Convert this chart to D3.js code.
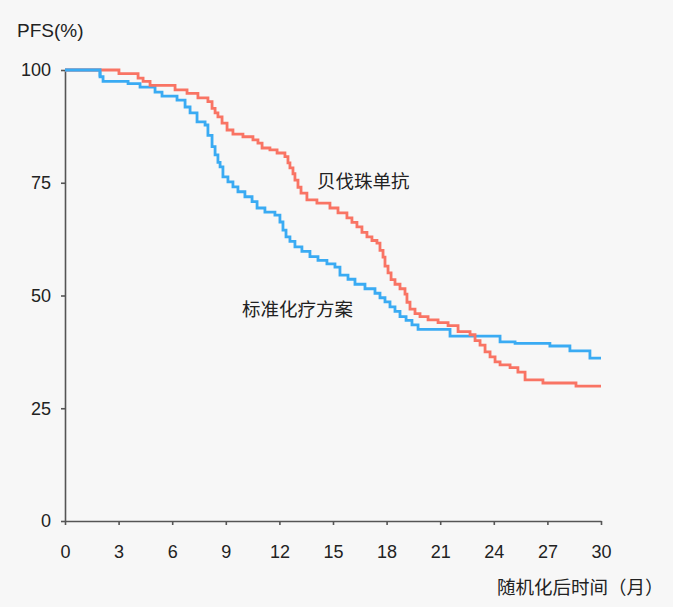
<!DOCTYPE html>
<html>
<head>
<meta charset="utf-8">
<script src="https://cdn.jsdelivr.net/npm/d3@7.9.0/dist/d3.min.js"></script>
<style>
  body { margin: 0; background: #f7f7f7; }
  svg { display: block; font-family: "Noto Sans CJK SC", "Noto Sans", sans-serif; }
</style>
</head>
<body>
<div id="chart"></div>
<script>
// step points: [month, PFS %] — value after each drop
const bevTimes = [0, 3.02, 4.09, 4.37, 4.76, 6.16, 6.83, 7.44, 8.0, 8.23, 8.4, 8.56, 8.79, 9.07, 9.4, 9.96,
  10.52, 10.8, 11.03, 11.47, 11.87, 12.31, 12.48, 12.59, 12.76, 12.87, 13.04, 13.21, 13.54, 14.1, 14.83,
  15.28, 15.78, 16.06, 16.34, 16.62, 16.9, 17.18, 17.46, 17.63, 17.8, 17.91, 18.08, 18.25, 18.47, 18.75,
  19.03, 19.14, 19.31, 19.59, 19.87, 20.32, 20.88, 21.44, 22.0, 22.67, 22.95, 23.23, 23.51, 23.79, 24.07,
  24.35, 24.91, 25.35, 25.75, 26.75, 28.6, 30];
const bevValues = [100, 99.2, 98.2, 97.5, 96.6, 95.6, 94.8, 93.8, 93.0, 91.5, 90.5, 89.6, 88.2, 86.7, 85.8, 85.2,
  84.5, 83.8, 82.7, 82.3, 81.6, 80.8, 79.4, 78.3, 77.0, 75.6, 74.0, 72.7, 71.2, 70.5, 69.4,
  68.3, 67.2, 66.2, 65.2, 64.0, 63.0, 62.2, 61.6, 60.0, 58.5, 56.5, 55.0, 53.5, 52.5, 51.5,
  50.3, 48.5, 47.0, 46.0, 45.3, 44.6, 44.0, 43.3, 42.0, 41.3, 40.0, 39.0, 37.5, 36.4, 35.3,
  34.6, 34.0, 33.0, 31.3, 30.6, 29.9, 29.9];

const stdTimes = [0, 1.96, 2.13, 3.53, 4.2, 5.04, 5.43, 6.27, 6.72, 7.0, 7.39, 7.84, 8.0, 8.23, 8.4, 8.56,
  8.68, 8.84, 9.12, 9.4, 9.68, 10.07, 10.47, 10.75, 11.19, 11.75, 12.03, 12.2, 12.37, 12.59, 12.87,
  13.26, 13.71, 14.16, 14.66, 15.11, 15.39, 15.84, 16.23, 16.79, 17.35, 17.63, 17.91, 18.19, 18.47,
  18.75, 19.09, 19.42, 19.76, 21.55, 24.35, 25.19, 27.14, 28.26, 29.38, 30];
const stdValues = [100, 98.5, 97.5, 97.0, 96.2, 95.1, 94.2, 93.3, 91.8, 90.5, 88.5, 87.8, 85.5, 83.0, 81.2, 79.5,
  78.5, 76.3, 75.2, 74.1, 73.0, 71.9, 70.8, 69.4, 68.5, 67.8, 66.3, 64.5, 63.0, 62.0, 60.8,
  59.8, 58.6, 57.8, 57.0, 56.3, 54.5, 53.6, 52.5, 51.5, 50.5, 49.5, 48.6, 47.5, 46.5,
  45.3, 44.5, 43.5, 42.5, 41.0, 39.7, 39.4, 38.8, 37.7, 36.1, 36.1];

const xTicks = [0, 3, 6, 9, 12, 15, 18, 21, 24, 27, 30];
const yTicks = [0, 25, 50, 75, 100];

const width = 673, height = 607;
const margin = { left: 65, right: 72, top: 70, bottom: 86 };

const svg = d3.select("#chart").append("svg")
  .attr("width", width)
  .attr("height", height);

svg.append("rect").attr("width", width).attr("height", height).attr("fill", "#f7f7f7");

const x = d3.scaleLinear().domain([0, 30]).range([margin.left, width - margin.right]);
const y = d3.scaleLinear().domain([0, 100]).range([height - margin.bottom, margin.top]);

const xAxis = svg.append("g")
  .attr("transform", `translate(0,${y(0)})`)
  .call(d3.axisBottom(x).tickValues(xTicks).tickSize(4).tickPadding(20).tickSizeOuter(0));

const yAxis = svg.append("g")
  .attr("transform", `translate(${x(0)},0)`)
  .call(d3.axisLeft(y).tickValues(yTicks).tickSize(4).tickPadding(10).tickSizeOuter(0));

[xAxis, yAxis].forEach(g => {
  g.select(".domain").attr("stroke", "#555").attr("stroke-width", 1.6);
  g.selectAll(".tick line").attr("stroke", "#555").attr("stroke-width", 1.6);
  g.selectAll(".tick text").attr("fill", "#222").style("font-size", "18px")
    .style("font-family", "'Liberation Sans', Arial, sans-serif");
});

const line = d3.line().x(d => x(d[0])).y(d => y(d[1])).curve(d3.curveStepAfter);

const stdData = stdTimes.map((t, i) => [t, stdValues[i]]);
const bevData = bevTimes.map((t, i) => [t, bevValues[i]]);

svg.append("path").datum(stdData)
  .attr("d", line)
  .attr("fill", "none")
  .attr("stroke", "#3aabf3")
  .attr("stroke-width", 2.8);

svg.append("path").datum(bevData)
  .attr("d", line)
  .attr("fill", "none")
  .attr("stroke", "#f97464")
  .attr("stroke-width", 2.8);

// redraw blue at start where both overlap at 100
svg.append("path").datum(stdData.slice(0, 2))
  .attr("d", line)
  .attr("fill", "none")
  .attr("stroke", "#3aabf3")
  .attr("stroke-width", 2.8);

svg.append("text").attr("x", 17).attr("y", 37)
  .attr("fill", "#222").style("font-size", "19px")
  .style("font-family", "'Liberation Sans', Arial, sans-serif")
  .text("PFS(%)");

svg.append("text").attr("x", 317).attr("y", 188)
  .attr("fill", "#222").style("font-size", "18.5px")
  .text("贝伐珠单抗");

svg.append("text").attr("x", 242).attr("y", 316)
  .attr("fill", "#222").style("font-size", "18.5px")
  .text("标准化疗方案");

svg.append("text").attr("x", 497).attr("y", 594)
  .attr("fill", "#222").style("font-size", "18.5px")
  .text("随机化后时间（月）");
</script>
</body>
</html>
